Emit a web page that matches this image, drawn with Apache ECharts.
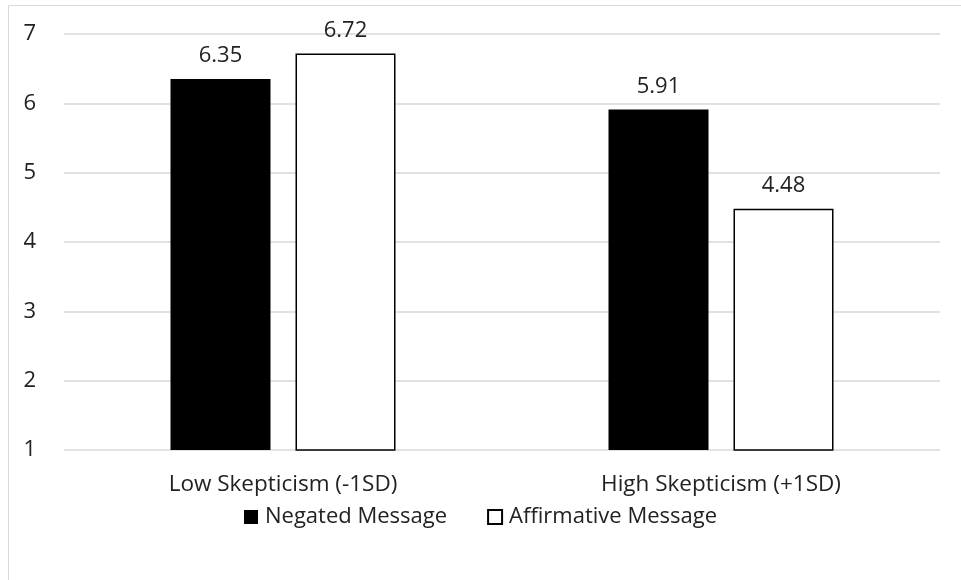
<!DOCTYPE html>
<html><head><meta charset="utf-8">
<script src="https://cdn.jsdelivr.net/npm/echarts@6/dist/echarts.min.js"></script>
<style>html,body{margin:0;padding:0;background:#fff}#c{width:961px;height:580px}</style>
</head><body><div id="c"></div>
<script>
const categories = ["Low Skepticism (-1SD)", "High Skepticism (+1SD)"];
const negated = [6.35, 5.91];
const affirmative = [6.72, 4.48];
const seriesNames = ["Negated Message", "Affirmative Message"];
const yTicks = {min: 1, max: 7, interval: 1};

const FONT = "Open Sans";
const chart = echarts.init(document.getElementById('c'));
chart.setOption({
  animation: false,
  backgroundColor: '#fff',
  textStyle: {fontFamily: FONT},
  graphic: [{type: 'rect', shape: {x: 8.5, y: 5.5, width: 970, height: 600}, style: {fill: 'none', stroke: '#d9d9d9', lineWidth: 1}, silent: true}],
  grid: {left: 64, right: 21, top: 34, bottom: 130},
  legend: {
    data: seriesNames, top: 501, left: 'center',
    itemWidth: 14, itemHeight: 14, itemGap: 40,
    icon: 'rect',
    textStyle: {fontSize: 22, color: '#222', fontFamily: FONT, padding: [0,0,0,2]}
  },
  xAxis: {
    type: 'category', data: categories,
    axisLine: {show: false}, axisTick: {show: false},
    axisLabel: {fontSize: 22.5, color: '#222', margin: 23, fontFamily: FONT}
  },
  yAxis: {
    type: 'value', min: yTicks.min, max: yTicks.max, interval: yTicks.interval,
    axisLine: {show: false}, axisTick: {show: false},
    axisLabel: {fontSize: 22, color: '#222', margin: 28, fontFamily: FONT},
    splitLine: {lineStyle: {color: '#d9d9d9', width: 1.5}}
  },
  series: [
    {name: seriesNames[0], type: 'bar', data: negated, barWidth: 100, barGap: '25%',
     itemStyle: {color: '#000'},
     label: {show: true, position: 'top', distance: 12, fontSize: 22, color: '#222', fontFamily: FONT}},
    {name: seriesNames[1], type: 'bar', data: affirmative, barWidth: 100,
     itemStyle: {color: '#fff', borderColor: '#000', borderWidth: 1.5},
     label: {show: true, position: 'top', distance: 12, fontSize: 22, color: '#222', fontFamily: FONT}}
  ]
});
</script></body></html>
